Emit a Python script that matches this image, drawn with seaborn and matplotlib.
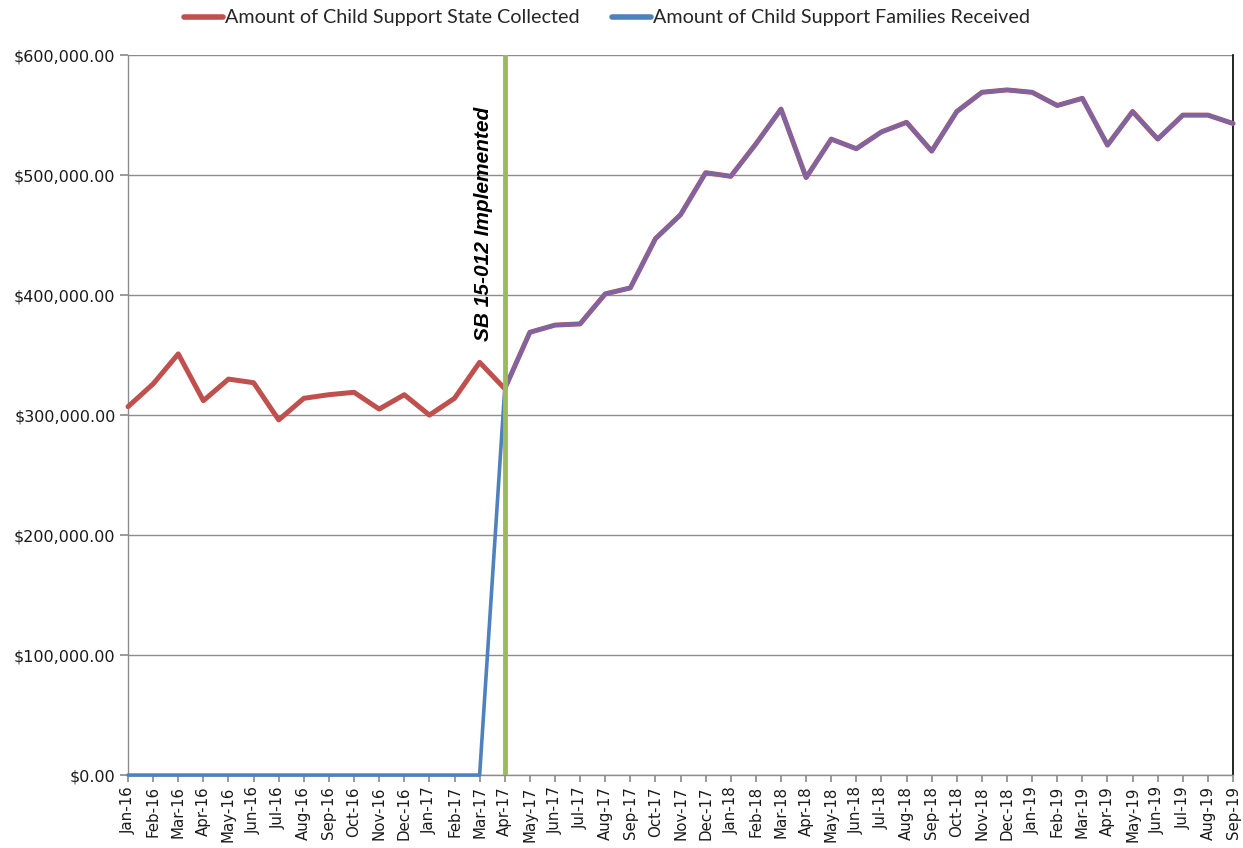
import matplotlib
matplotlib.use("Agg")
import matplotlib.pyplot as plt
import matplotlib.ticker as mticker
import numpy as np
import pandas as pd
import seaborn as sns

# Monthly child support amounts, Jan 2016 - Sep 2019
months = list(pd.date_range("2016-01-01", periods=45, freq="MS").strftime("%b-%y"))

state_collected = [
    307000, 326000, 351000, 312000, 330000, 327000, 296000, 314000, 317000, 319000, 305000, 317000,
    300000, 314000, 344000, 322000, 369000, 375000, 376000, 401000, 406000, 447000, 467000, 502000,
    499000, 526000, 555000, 498000, 530000, 522000, 536000, 544000, 520000, 553000, 569000, 571000,
    569000, 558000, 564000, 525000, 553000, 530000, 550000, 550000, 543000,
]
families_received = [
    0, 0, 0, 0, 0, 0, 0, 0, 0, 0, 0, 0,
    0, 0, 0, 322000, 369000, 375000, 376000, 401000, 406000, 447000, 467000, 502000,
    499000, 526000, 555000, 498000, 530000, 522000, 536000, 544000, 520000, 553000, 569000, 571000,
    569000, 558000, 564000, 525000, 553000, 530000, 550000, 550000, 543000,
]
law_month = "Apr-17"
law_label = "SB 15-012 Implemented"

label_state = "Amount of Child Support State Collected"
label_family = "Amount of Child Support Families Received"

RED = "#C0504D"
BLUE = "#4F81BD"
PURPLE = "#8064A2"
GREEN = "#9BBB59"
GRID = "#8C8C8C"

df = pd.DataFrame({
    "idx": np.arange(len(months)),
    "month": months,
    "state": state_collected,
    "family": families_received,
})

sns.set_theme(style="white")
plt.rcParams["font.family"] = ["DejaVu Sans"]

fig = plt.figure(figsize=(12.43, 8.48), dpi=100)
ax = fig.add_axes([0.103, 0.086, 0.889, 0.849])

sns.lineplot(data=df, x="idx", y="state", ax=ax, color=RED, linewidth=3.6,
             clip_on=False, zorder=3, legend=False)
sns.lineplot(data=df, x="idx", y="family", ax=ax, color=BLUE, linewidth=2.6,
             clip_on=False, zorder=4, legend=False)

# Where both series coincide the lines blend into purple
law_idx = months.index(law_month)
post = df[df["idx"] >= law_idx]
sns.lineplot(data=post, x="idx", y="family", ax=ax, color=PURPLE, linewidth=2.8,
             clip_on=False, zorder=5, legend=False)

# Policy marker
ax.axvline(law_idx, color=GREEN, linewidth=3.5, zorder=6)
ax.text(law_idx - 0.45, 362000, law_label, rotation=90, ha="right", va="bottom",
        fontsize=15, fontweight="bold", fontstyle="italic", color="black",
        family="Liberation Sans", zorder=7)

ax.set_xlim(0, len(months) - 1)
ax.set_ylim(0, 600000)
ax.set_xticks(df["idx"])
ax.set_xticklabels(months, rotation=90, fontsize=10.8, color="#1a1a1a")
ax.yaxis.set_major_locator(mticker.MultipleLocator(100000))
ax.yaxis.set_major_formatter(mticker.FuncFormatter(lambda v, p: f"${v:,.2f}"))
ax.tick_params(axis="y", labelsize=11.5, labelcolor="#1a1a1a", length=6, color=GRID,
               direction="out", left=True, pad=3)
ax.tick_params(axis="x", length=5, color=GRID, direction="out", bottom=True, pad=3)
ax.set_xlabel("")
ax.set_ylabel("")

ax.grid(axis="y", color=GRID, linewidth=1)
ax.grid(axis="x", visible=False)
for side in ["left", "bottom"]:
    ax.spines[side].set_color(GRID)
    ax.spines[side].set_linewidth(1)
ax.spines["top"].set_visible(False)
ax.spines["right"].set_color("black")
ax.spines["right"].set_linewidth(1.2)

handles = [
    plt.Line2D([], [], color=RED, linewidth=4),
    plt.Line2D([], [], color=BLUE, linewidth=4),
]
fig.legend(handles, [label_state, label_family], loc="center",
           bbox_to_anchor=(607 / 1243, 1 - 18 / 848), ncol=2, frameon=False,
           prop={"family": "Lato", "size": 14.2}, handlelength=2.0,
           handletextpad=0.1, columnspacing=1.6)

fig.savefig("out.png", dpi=100)
